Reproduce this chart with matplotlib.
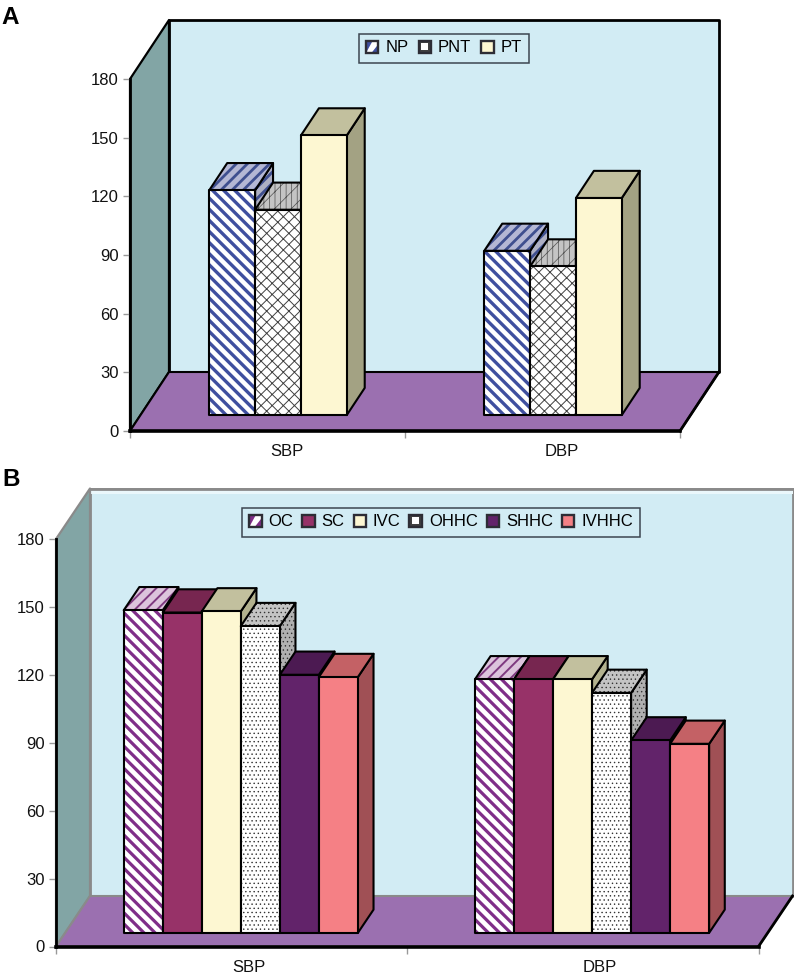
import matplotlib
matplotlib.use('Agg')
import matplotlib.pyplot as plt
from matplotlib.legend_handler import HandlerBase
from matplotlib.patches import Patch, Polygon, Rectangle

plt.rcParams['font.family'] = ['Liberation Sans', 'DejaVu Sans']

W, H = 794, 974

groups = ['SBP', 'DBP']
ticks = [0, 30, 60, 90, 120, 150, 180]

# panel A
labels_a = ['NP', 'PNT', 'PT']
sbp_a = [115, 105, 143]
dbp_a = [84, 76, 111]

# panel B
labels_b = ['OC', 'SC', 'IVC', 'OHHC', 'SHHC', 'IVHHC']
sbp_b = [142.5, 141.5, 142, 135.5, 114, 113]
dbp_b = [112, 112, 112, 106, 85, 83.5]

# front, top, side colours, hatch colours and pattern
styles = {
    'NP': dict(front='white', top='#b4b7d4', side='#aeb0c4', hc='#3f4f9f', tc='#3f4f8f', hatch='\\\\\\', top_hatch='///', lw=2.4, tlw=2.0),
    'PNT': dict(front='white', top='#c4c4c4', side='#b0b0b0', hc='#404040', tc='#505050', hatch='xxx', top_hatch='//|||', lw=0.7, tlw=0.5),
    'PT': dict(front='#fdf7d2', top='#c2c09e', side='#a3a283'),
    'OC': dict(front='white', top='#dcc4dc', side='#b08ab0', hc='#7f2e88', tc='#7f3a80', hatch='\\\\\\', top_hatch='///', lw=2.3, tlw=1.4),
    'SC': dict(front='#973268', top='#772650', side='#6a2148'),
    'IVC': dict(front='#fdf7d2', top='#c2c09e', side='#b3b28f'),
    'OHHC': dict(front='white', top='#c4c4c4', side='#b0b0b0', hc='#333333', tc='#333333', hatch='....', top_hatch='....', lw=0.5, tlw=0.5),
    'SHHC': dict(front='#62236a', top='#4c1a52', side='#431748'),
    'IVHHC': dict(front='#f58085', top='#c46165', side='#a05055'),
}


def face(ax, pts, fc, hc=None, hatch=None, lw=None, edge='black', elw=1.5, z=3):
    # filled face, hatch drawn separately so the outline stays black
    if hatch:
        plt.rcParams['hatch.linewidth'] = lw
        ax.add_patch(Polygon(pts, closed=True, fc=fc, ec=hc, hatch=hatch, lw=0, clip_on=False, zorder=z))
        ax.add_patch(Polygon(pts, closed=True, fill=False, ec=edge, lw=elw, clip_on=False, zorder=z, joinstyle='round'))
    else:
        ax.add_patch(Polygon(pts, closed=True, fc=fc, ec=edge, lw=elw, clip_on=False, zorder=z, joinstyle='round'))


class SwatchHandler(HandlerBase):
    def create_artists(self, legend, orig, xd, yd, w, h, fontsize, trans):
        s = orig.swatch
        artists = []
        side = min(w, h)
        x0 = -xd + (w - side) / 2
        y0 = -yd + (h - side) / 2
        hatch = s.get('hatch')
        if hatch == '\\\\\\':
            # stripes are too coarse for a swatch: white diagonal on the colour
            artists.append(Rectangle((x0, y0), side, side, fc=s['hc'], lw=0, transform=trans))
            artists.append(Polygon([(x0, y0), (x0 + 0.55 * side, y0 + side), (x0 + side, y0 + side), (x0 + side, y0 + 0.7 * side), (x0 + 0.45 * side, y0)],
                                   fc='white', lw=0, transform=trans))
        elif hatch:
            # same for the fine patterns: pale middle on a dark ground
            artists.append(Rectangle((x0, y0), side, side, fc='#404040', lw=0, transform=trans))
            artists.append(Rectangle((x0 + 0.2 * side, y0 + 0.2 * side), 0.6 * side, 0.6 * side, fc='white', lw=0, transform=trans))
        else:
            artists.append(Rectangle((x0, y0), side, side, fc=s['front'], lw=0, transform=trans))
        artists.append(Rectangle((x0, y0), side, side, fill=False, ec='#2d2d35', lw=1.7, transform=trans))
        return artists


def panel(rect, series, labels, depth_px, bar_w, start, edge_back, legend_box, legend_kw):
    left, right, top, bottom = rect
    ax = fig.add_axes([left / W, 1 - bottom / H, (right - left) / W, (bottom - top) / H])
    ax.set_xlim(0, 2)
    ax.set_ylim(0, 180)
    ax.patch.set_visible(False)
    for sp in ax.spines.values():
        sp.set_visible(False)

    # depth vector in data units
    dx = depth_px[0] / ((right - left) / 2)
    dy = depth_px[1] / ((bottom - top) / 180)

    def p(x, y, d=0.0):
        return (x + d * dx, y + d * dy)

    # back wall, side wall, floor
    wall = [p(0, 0, 1), p(2, 0, 1), p(2, 180, 1), p(0, 180, 1)]
    side = [p(0, 0, 0), p(0, 0, 1), p(0, 180, 1), p(0, 180, 0)]
    floor = [p(0, 0, 0), p(2, 0, 0), p(2, 0, 1), p(0, 0, 1)]
    face(ax, wall, '#d2ecf4', edge=edge_back, elw=2, z=1)
    if edge_back != 'black':
        ax.add_patch(Polygon([p(0, 180, 1), p(2, 180, 1), p(2, 177.5, 1), p(0, 177.5, 1)], fc='#eaf7fb', lw=0, clip_on=False, zorder=1.1))
        ax.plot(*zip(p(0, 180, 1), p(2, 180, 1)), color=edge_back, lw=2, clip_on=False, zorder=1.2)
    face(ax, side, '#82a5a5', edge=edge_back, elw=1.6, z=1.5)
    face(ax, floor, '#9b70b0', edge=edge_back, elw=1.5, z=2)
    ax.plot(*zip(p(0, 0), p(0, 180)), color='black', lw=2, clip_on=False, zorder=2.1)
    ax.plot(*zip(p(0, 0), p(2, 0)), color='black', lw=2.6, clip_on=False, zorder=2.1)
    ax.plot(*zip(p(2, 0), p(2, 0, 1)), color='black', lw=2, clip_on=False, zorder=2.1)

    # bars, painted left to right
    d0, d1 = 0.27, 0.73
    z = 3
    for g, vals in enumerate(series):
        for i, v in enumerate(vals):
            s = styles[labels[i]]
            x0 = g + start + i * bar_w
            x1 = x0 + bar_w
            sd = [p(x1, 0, d0), p(x1, 0, d1), p(x1, v, d1), p(x1, v, d0)]
            tp = [p(x0, v, d0), p(x1, v, d0), p(x1, v, d1), p(x0, v, d1)]
            fr = [p(x0, 0, d0), p(x1, 0, d0), p(x1, v, d0), p(x0, v, d0)]
            face(ax, sd, s['side'], s.get('tc'), s.get('top_hatch'), s.get('tlw'), z=z)
            face(ax, tp, s['top'], s.get('tc'), s.get('top_hatch'), s.get('tlw'), z=z + 0.1)
            face(ax, fr, s['front'], s.get('hc'), s.get('hatch'), s.get('lw'), z=z + 0.2)
            z += 1

    ax.set_yticks(ticks)
    ax.tick_params(axis='y', length=5, width=1, color='#999999', labelsize=12, pad=3, labelcolor='#111111')
    ax.set_xticks([0, 1, 2])
    ax.set_xticklabels([])
    ax.tick_params(axis='x', which='major', length=5, width=1, color='#999999')
    ax.set_xticks([0.5 + dx / 2, 1.5 + dx / 2], groups, minor=True)
    ax.tick_params(axis='x', which='minor', length=0, labelsize=12, pad=9.5, labelcolor='#111111')

    handles = []
    for lab in labels:
        h = Patch(label=lab)
        h.swatch = styles[lab]
        handles.append(h)
    lx0, lx1, ly0, ly1 = legend_box
    leg = fig.legend(handles=handles, labels=labels, handler_map={Patch: SwatchHandler()},
                     loc='center', bbox_to_anchor=((lx0 + lx1) / 2 / W, 1 - (ly0 + ly1) / 2 / H),
                     ncol=len(labels), fontsize=12, frameon=True, fancybox=False, framealpha=1,
                     facecolor='#d2ecf4', edgecolor='#3c4650', handlelength=0.75, handleheight=0.75,
                     borderpad=0.42, **legend_kw)
    leg.get_frame().set_linewidth(1.1)
    leg.set_zorder(50)
    return ax


fig = plt.figure(figsize=(W / 100, H / 100), dpi=100, facecolor='white')

panel((130, 680, 79, 431), [sbp_a, dbp_a], labels_a, (39, 59), 1 / 6, 0.25, 'black',
      (360, 528, 33, 63), dict(columnspacing=0.6, handletextpad=0.42))
panel((56, 758.5, 539, 946.5), [sbp_b, dbp_b], labels_b, (34, 50.5), 1 / 9, 1 / 6, '#8a8a8a',
      (242, 640, 507, 537), dict(columnspacing=0.52, handletextpad=0.42))

fig.text(1 / W, 1 - 17 / H, 'A', fontsize=17.5, fontweight='bold', va='center', ha='left')
fig.text(2 / W, 1 - 480 / H, 'B', fontsize=17.5, fontweight='bold', va='center', ha='left')

fig.savefig('out.png', dpi=100)
